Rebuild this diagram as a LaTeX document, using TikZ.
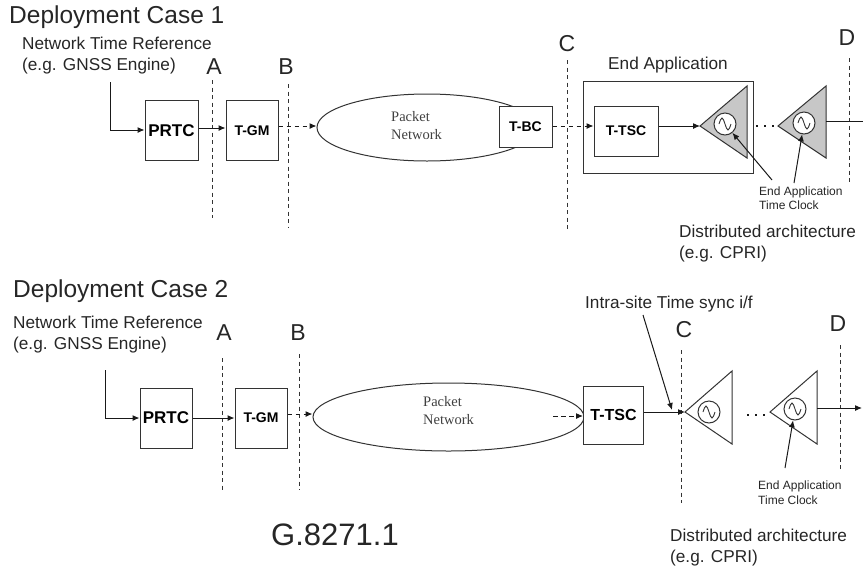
\documentclass[tikz,border=0pt]{standalone}
\usepackage{fontspec}
\setmainfont{Liberation Sans}
\newfontfamily\pktfont{Liberation Serif}
\usetikzlibrary{positioning, shapes.geometric, arrows.meta}

\tikzset{
  box/.style={draw=black!80, line width=1pt, fill=white, inner sep=0pt, font=\bfseries},
  cloud/.style={draw=black!80, line width=1pt, ellipse, inner sep=0pt},
  txt/.style={text=black!85, font=\fontsize{17.2}{21}\selectfont, align=left, inner sep=0pt},
  title/.style={text=black!85, font=\fontsize{24.5}{28}\selectfont, inner sep=0pt},
  letter/.style={text=black!85, font=\fontsize{23}{27}\selectfont, inner sep=0pt},
  tiny/.style={text=black!85, font=\fontsize{12}{14.5}\selectfont, align=left, inner sep=0pt},
  pkt/.style={text=black!75, font=\pktfont\fontsize{14.5}{18}\selectfont, align=left, inner sep=0pt},
  guide/.style={dashed, black!80, line width=1pt, dash pattern=on 4pt off 3.5pt},
  link/.style={->, black!90, line width=1pt},
  dlink/.style={->, black!90, line width=1pt, dash pattern=on 4.5pt off 3.5pt},
  dots/.style={black!90, line width=2.2pt, dash pattern=on 2.2pt off 5.8pt},
  amp/.style={draw=black!80, line width=1pt},
  clock/.style={circle, draw=black!80, line width=1pt, fill=white, inner sep=0pt, minimum size=22pt,
    path picture={\draw[black!80, line width=0.9pt] ([shift={(-6,0)}]path picture bounding box.center)
      sin ++(3,-6) cos ++(3,6) sin ++(3,6) cos ++(3,-6);}}
}

\begin{document}
\begin{tikzpicture}[x=1pt, y=-1pt, >={Latex[length=7pt,width=6pt]}]
  \useasboundingbox (0,0) rectangle (863,566);

  % case 1
  \node[title, anchor=west]                  (title 1)  at (9,17)    {Deployment Case 1};
  \node[txt, anchor=west]                    (ref 1)    at (22,55.5) {Network Time Reference\\(e.g. GNSS Engine)};
  \node[letter]                              (A 1)      at (214,67)  {A};
  \node[letter]                              (B 1)      at (286,67)  {B};
  \node[letter]                              (C 1)      at (567,44)  {C};
  \node[letter]                              (D 1)      at (847,38)  {D};

  \node[cloud, minimum width=220pt, minimum height=67pt] (net 1) at (427,127.5) {};
  \node[pkt, anchor=west]                    (pkt 1)    at (391,126) {Packet\\Network};
  \node[box, minimum width=53pt, minimum height=60pt, font=\bfseries\fontsize{17}{20}\selectfont]   (prtc 1)  at (171.5,130.5) {PRTC};
  \node[box, minimum width=52pt, minimum height=60pt, font=\bfseries\fontsize{14}{17}\selectfont]   (tgm 1)   at (252,130.5)   {T-GM};
  \node[box, minimum width=53pt, minimum height=41pt, font=\bfseries\fontsize{14}{17}\selectfont]   (tbc 1)   at (525.5,126.5) {T-BC};
  \node[box, minimum width=170pt, minimum height=92pt]                                              (app 1)   at (668,127)     {};
  \node[txt, above=7pt of app 1]                                                                    (app txt) {End Application};
  \node[box, minimum width=64pt, minimum height=50pt, font=\bfseries\fontsize{14}{17}\selectfont]   (ttsc 1)  at (626,131)     {T-TSC};

  \coordinate (tip 1) at (700,126);
  \coordinate (tip 2) at (778,126);
  \draw[amp, fill=black!22] (tip 1) -- ++(47,-40) -- ++(0,72) -- cycle;
  \draw[amp, fill=black!22] (tip 2) -- ++(48,-40) -- ++(0,72) -- cycle;
  \node[clock] (clock 1) at (725,124) {};
  \node[clock] (clock 2) at (804,123) {};
  \node[tiny, anchor=west] (clock txt 1) at (759,198)  {End Application\\Time Clock};
  \node[txt, anchor=west]  (arch 1)      at (679,243.5) {Distributed architecture\\(e.g. CPRI)};

  \coordinate (ref end 1) at (110,82);
  \coordinate (A top 1) at (212,80);
  \coordinate (A end 1) at (212,218);
  \coordinate (B top 1) at (288,84);
  \coordinate (B end 1) at (288,227);
  \coordinate (C top 1) at (567,60);
  \coordinate (C end 1) at (567,230);
  \coordinate (D top 1) at (849,58);
  \coordinate (D end 1) at (849,185);
  \coordinate (dots a 1) at (756,126);
  \coordinate (out a 1) at (826,121);
  \coordinate (out b 1) at (863,121);
  \coordinate (from a) at (772,180);
  \coordinate (from b) at (794,183);

  \draw[guide] (A top 1) -- (A end 1);
  \draw[guide] (B top 1) -- (B end 1);
  \draw[guide] (C top 1) -- (C end 1);
  \draw[guide] (D top 1) -- (D end 1);

  \draw[link] (ref end 1) |- (prtc 1.west |- 110,130);
  \draw[link] (prtc 1.east |- 0,128) -- (tgm 1.west |- 0,128);
  \draw[dlink] (tgm 1.east |- 0,126) -- (net 1.west |- 0,126);
  \draw[dlink] (tbc 1.east |- 0,126) -- (ttsc 1.west |- 0,126);
  \draw[link] (ttsc 1.east |- tip 1) -- (tip 1);
  \draw[dots] (dots a 1) -- (tip 2);
  \draw[black!90, line width=1pt] (out a 1) -- (out b 1);
  \draw[link] (from a) -- (clock 1);
  \draw[link] (from b) -- (clock 2);

  % case 2
  \node[title, anchor=west]                  (title 2)  at (13,291)  {Deployment Case 2};
  \node[txt, anchor=west]                    (ref 2)    at (13,335)  {Network Time Reference\\(e.g. GNSS Engine)};
  \node[letter]                              (A 2)      at (224,333) {A};
  \node[letter]                              (B 2)      at (298,333) {B};
  \node[letter]                              (C 2)      at (684,330) {C};
  \node[letter]                              (D 2)      at (838,324) {D};
  \node[txt, anchor=west]                    (sync)     at (585,304) {Intra-site Time sync i/f};

  \node[cloud, minimum width=271pt, minimum height=68pt] (net 2) at (448.5,417) {};
  \node[pkt, anchor=west]                    (pkt 2)    at (423,411) {Packet\\Network};
  \node[box, minimum width=52pt, minimum height=60pt, font=\bfseries\fontsize{17}{20}\selectfont]   (prtc 2)  at (166,418)   {PRTC};
  \node[box, minimum width=52pt, minimum height=60pt, font=\bfseries\fontsize{14}{17}\selectfont]   (tgm 2)   at (261,418)   {T-GM};
  \node[box, minimum width=60pt, minimum height=58pt, font=\bfseries\fontsize{16}{19}\selectfont]   (ttsc 2)  at (613.5,415) {T-TSC};

  \coordinate (tip 3) at (685,412);
  \coordinate (tip 4) at (770,412);
  \draw[amp] (tip 3) -- ++(47,-41) -- ++(0,73) -- cycle;
  \draw[amp] (tip 4) -- ++(47,-41) -- ++(0,73) -- cycle;
  \node[clock] (clock 3) at (709,412) {};
  \node[clock] (clock 4) at (795,409) {};
  \node[tiny, anchor=west] (clock txt 2) at (758,492.5) {End Application\\Time Clock};
  \node[txt, anchor=west]  (arch 2)      at (670,547.5) {Distributed architecture\\(e.g. CPRI)};
  \node[text=black!85, font=\fontsize{31}{36}\selectfont, inner sep=0pt] (doc) at (335,535) {G.8271.1};

  \coordinate (ref end 2) at (105,370);
  \coordinate (A top 2) at (222,358);
  \coordinate (A end 2) at (222,490);
  \coordinate (B top 2) at (299,354);
  \coordinate (B end 2) at (299,490);
  \coordinate (C top 2) at (681,350);
  \coordinate (C end 2) at (681,503);
  \coordinate (D top 2) at (840,345);
  \coordinate (D end 2) at (840,472);
  \coordinate (pkt out) at (553,416);
  \coordinate (dots a 2) at (747,415);
  \coordinate (dots b 2) at (767,415);
  \coordinate (out a 2) at (817,408);
  \coordinate (out b 2) at (862,408);
  \coordinate (from c) at (785,468);
  \coordinate (sync a) at (643,315);
  \coordinate (sync b) at (672,410);

  \draw[guide] (A top 2) -- (A end 2);
  \draw[guide] (B top 2) -- (B end 2);
  \draw[guide] (C top 2) -- (C end 2);
  \draw[guide] (D top 2) -- (D end 2);

  \draw[link] (ref end 2) |- (prtc 2.west);
  \draw[link] (prtc 2) -- (tgm 2);
  \draw[dlink] (tgm 2.east |- 0,414) -- (net 2.west |- 0,414);
  \draw[dlink] (pkt out) -- (ttsc 2.west |- pkt out);
  \draw[link] (ttsc 2.east |- tip 3) -- (tip 3);
  \draw[dots] (dots a 2) -- (dots b 2);
  \draw[link] (out a 2) -- (out b 2);
  \draw[link] (from c) -- (clock 4);
  \draw[link] (sync a) -- (sync b);
\end{tikzpicture}
\end{document}
